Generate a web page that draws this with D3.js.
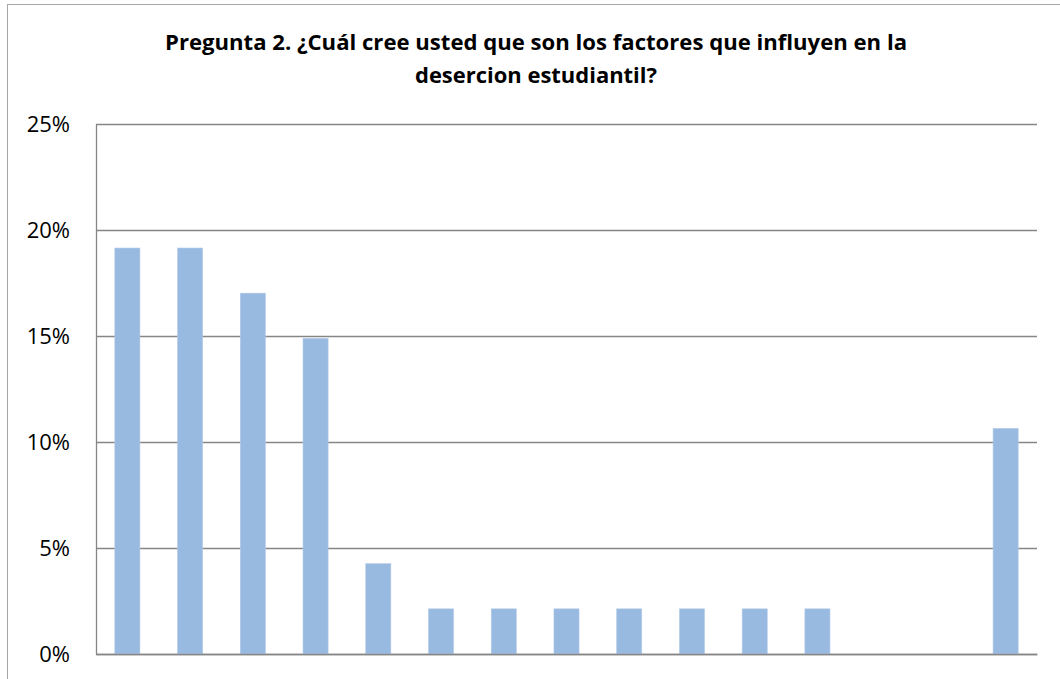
<!DOCTYPE html>
<html>
<head>
<meta charset="utf-8">
<script src="https://cdn.jsdelivr.net/npm/d3@7"></script>
<style>
  html, body { margin: 0; padding: 0; background: #fff; }
  svg { display: block; }
</style>
</head>
<body>
<svg id="chart" width="1060" height="679"></svg>
<script>
const titleLines = ["Pregunta 2. ¿Cuál cree usted que son los factores que influyen en la", "desercion estudiantil?"];
const categories = ["F1","F2","F3","F4","F5","F6","F7","F8","F9","F10","F11","F12","F13","F14","F15"];
const values = [0.1915, 0.1915, 0.1702, 0.1489, 0.0426, 0.0213, 0.0213, 0.0213, 0.0213, 0.0213, 0.0213, 0.0213, 0, 0, 0.1064];
const yTicks = [0, 0.05, 0.10, 0.15, 0.20, 0.25];

const svg = d3.select("#chart");

// outer chart border
svg.append("rect")
  .attr("x", 7.5).attr("y", 4.5)
  .attr("width", 1100).attr("height", 700)
  .attr("fill", "none").attr("stroke", "#a6a6a6").attr("stroke-width", 1);

const plot = { left: 96, right: 1037, top: 124, bottom: 654 };

const x = d3.scaleBand().domain(categories).range([plot.left, plot.right]).paddingInner(0.6).paddingOuter(0.3);
const y = d3.scaleLinear().domain([0, 0.25]).range([plot.bottom, plot.top]);

// gridlines
const grid = svg.append("g")
  .attr("transform", `translate(${plot.left},0)`)
  .call(d3.axisLeft(y).tickValues(yTicks).tickSize(-(plot.right - plot.left)).tickFormat(""));
grid.select(".domain").remove();
grid.selectAll(".tick line").attr("stroke", "#868686").attr("stroke-width", 1.3);

// bars
svg.append("g").selectAll("rect")
  .data(values)
  .join("rect")
  .attr("x", (d, i) => x(categories[i]))
  .attr("width", x.bandwidth())
  .attr("y", d => y(d))
  .attr("height", d => y(0) - y(d))
  .attr("fill", "#98b9e0")
  .attr("stroke", "#b3cbe8")
  .attr("stroke-width", 0.6);

// y axis with labels
const yAxis = svg.append("g")
  .attr("transform", `translate(${plot.left},0)`)
  .call(d3.axisLeft(y).tickValues(yTicks).tickSize(0).tickPadding(26).tickFormat(d3.format(".0%")));
yAxis.select(".domain").attr("stroke", "#868686").attr("stroke-width", 1.3);
yAxis.selectAll("text")
  .attr("font-family", "'Open Sans', sans-serif")
  .attr("font-size", 22)
  .attr("fill", "#000")
  .attr("dy", "0.36em");

// x axis line
const xAxis = svg.append("g")
  .attr("transform", `translate(0,${plot.bottom})`)
  .call(d3.axisBottom(x).tickSize(0).tickFormat(""));
xAxis.select(".domain").attr("stroke", "#868686").attr("stroke-width", 1.3);

// title
const titleSpec = [
  { text: titleLines[0], y: 50, width: 742 },
  { text: titleLines[1], y: 83, width: 242 }
];
svg.append("g").selectAll("text")
  .data(titleSpec)
  .join("text")
  .attr("x", 536)
  .attr("y", d => d.y)
  .attr("text-anchor", "middle")
  .attr("font-family", "'Open Sans', sans-serif")
  .attr("font-weight", "bold")
  .attr("font-size", 21)
  .attr("textLength", d => d.width)
  .attr("lengthAdjust", "spacingAndGlyphs")
  .attr("fill", "#000")
  .text(d => d.text);
</script>
</body>
</html>
